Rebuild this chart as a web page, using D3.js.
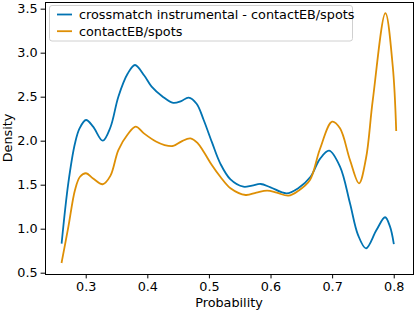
<!DOCTYPE html>
<html><head><meta charset="utf-8">
<script src="https://cdn.jsdelivr.net/npm/d3@7/dist/d3.min.js"></script>
<style>body{margin:0;background:#fff}svg{display:block}text{font-family:"DejaVu Sans",sans-serif}</style>
</head><body><svg id="c" width="415" height="311"></svg>
<script>
const seriesNames = ["crossmatch instrumental - contactEB/spots", "contactEB/spots"];
const colors = ["#0173b2", "#de8f05"];
const blueX = [0.261,0.2718,0.2826,0.29,0.3005,0.312,0.3276,0.34,0.353,0.368,0.38,0.395,0.407,0.425,0.442,0.455,0.467,0.48,0.4915,0.505,0.5185,0.535,0.556,0.57,0.584,0.60,0.626,0.645,0.665,0.68,0.695,0.7128,0.729,0.742,0.755,0.772,0.786,0.794,0.80];
const blueY = [0.84,1.52,1.97,2.14,2.235,2.16,2.0,2.15,2.5,2.76,2.86,2.74,2.614,2.50,2.43,2.45,2.49,2.42,2.235,1.98,1.74,1.56,1.477,1.49,1.508,1.47,1.402,1.46,1.59,1.79,1.886,1.705,1.289,0.93,0.777,0.985,1.13,1.023,0.834];
const orangeX = [0.261,0.2718,0.2826,0.2907,0.3005,0.312,0.3276,0.34,0.353,0.368,0.381,0.395,0.414,0.428,0.442,0.455,0.47,0.482,0.4915,0.505,0.5185,0.535,0.5596,0.577,0.5945,0.61,0.629,0.645,0.664,0.68,0.70,0.7128,0.729,0.7436,0.755,0.766,0.7865,0.7985,0.804];
const orangeY = [0.62,1.02,1.44,1.59,1.63,1.57,1.505,1.60,1.894,2.07,2.16,2.08,1.99,1.95,1.94,1.99,2.027,1.97,1.875,1.72,1.59,1.46,1.383,1.41,1.432,1.41,1.375,1.43,1.553,1.90,2.216,2.14,1.78,1.516,1.80,2.46,3.45,2.84,2.12];
const xTicks = [0.3,0.4,0.5,0.6,0.7,0.8];
const yTicks = [0.5,1.0,1.5,2.0,2.5,3.0,3.5];

const svg = d3.select("#c");
const L=45, R=413, T=2, B=274;
const x = d3.scaleLinear().domain([0.2339,0.8313]).range([L,R]);
const y = d3.scaleLinear().domain([0.4852,3.5758]).range([B,T]);

const series = [d3.zip(blueX, blueY), d3.zip(orangeX, orangeY)];
const line = d3.line().x(d=>x(d[0])).y(d=>y(d[1])).curve(d3.curveCatmullRom.alpha(0.5));
series.forEach((s,i)=>{
  svg.append("path").attr("d", line(s)).attr("fill","none").attr("stroke",colors[i]).attr("stroke-width",1.8).attr("stroke-linecap","square");
});

const fs = "12.8px";
const xa = svg.append("g").attr("transform",`translate(0,${B})`).call(d3.axisBottom(x).tickValues(xTicks).tickFormat(d3.format(".1f")).tickSize(4.4).tickPadding(4));
const ya = svg.append("g").attr("transform",`translate(${L},0)`).call(d3.axisLeft(y).tickValues(yTicks).tickFormat(d3.format(".1f")).tickSize(4.4).tickPadding(3));
[xa,ya].forEach(a=>{a.select(".domain").remove(); a.selectAll("text").attr("font-size",fs).attr("fill","#000").style("font-family","DejaVu Sans"); a.selectAll("line").attr("stroke","#000").attr("stroke-width",1);});
svg.append("rect").attr("x",L).attr("y",T).attr("width",R-L).attr("height",B-T).attr("fill","none").attr("stroke","#000").attr("stroke-width",1).attr("shape-rendering","crispEdges");

svg.append("text").attr("x",(L+R)/2).attr("y",307).attr("text-anchor","middle").attr("font-size",fs).text("Probability");
svg.append("text").attr("transform",`translate(12,${(T+B)/2}) rotate(-90)`).attr("text-anchor","middle").attr("font-size",fs).text("Density");

const lg = svg.append("g");
lg.append("rect").attr("x",49.5).attr("y",5.5).attr("width",303).attr("height",35.5).attr("rx",2.5).attr("fill","#fff").attr("fill-opacity",0.8).attr("stroke","#d0d0d0").attr("stroke-width",1);
seriesNames.forEach((n,i)=>{
  const cy = 14.5 + i*16.7;
  lg.append("line").attr("x1",57).attr("x2",72).attr("y1",cy).attr("y2",cy).attr("stroke",colors[i]).attr("stroke-width",1.8);
  lg.append("text").attr("x",79).attr("y",cy).attr("dy","0.36em").attr("font-size",fs).text(n);
});
</script></body></html>
